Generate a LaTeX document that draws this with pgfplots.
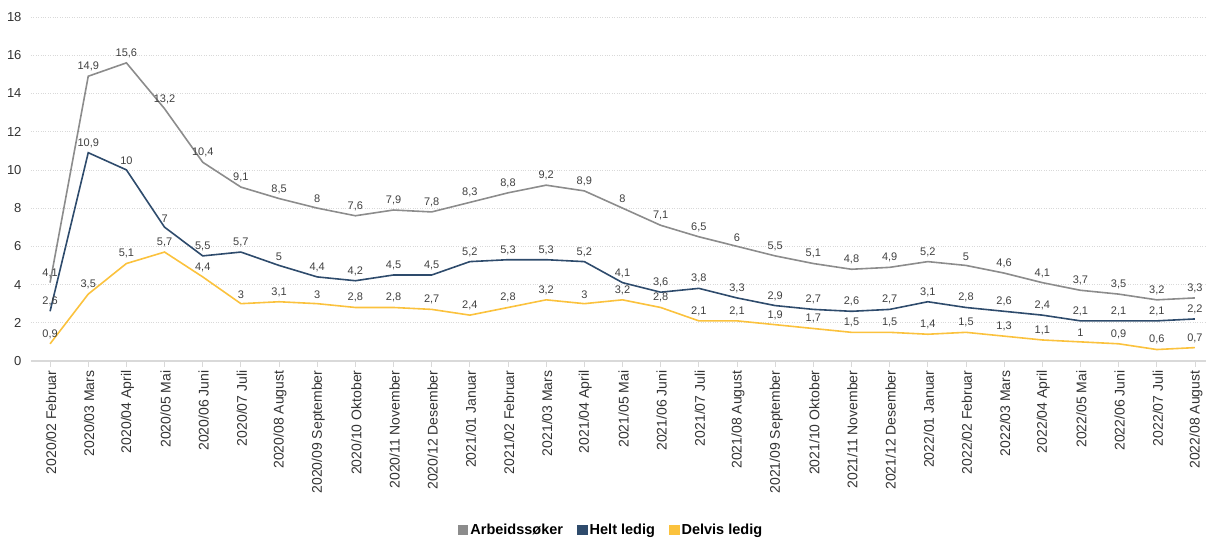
\documentclass[border=0pt]{standalone}
\usepackage{pgfplots}
\pgfplotsset{compat=1.18}
\usepackage{fontspec}
\setmainfont{Liberation Sans}

\definecolor{cgray}{HTML}{8C8C8C}
\definecolor{cblue}{HTML}{2E4B6C}
\definecolor{cyellow}{HTML}{FBC23D}
\definecolor{labgray}{HTML}{404040}
\definecolor{gridgray}{HTML}{D9D9D9}

\begin{document}
\begin{tikzpicture}
\begin{axis}[
  scale only axis,
  width=1175pt, height=344pt,
  xmin=-0.5, xmax=30.29,
  ymin=0, ymax=18,
  ytick={0,2,...,18},
  xtick={0,...,30},
  xticklabels={2020/02 Februar,2020/03 Mars,2020/04 April,2020/05 Mai,2020/06 Juni,2020/07 Juli,2020/08 August,2020/09 September,2020/10 Oktober,2020/11 November,2020/12 Desember,2021/01 Januar,2021/02 Februar,2021/03 Mars,2021/04 April,2021/05 Mai,2021/06 Juni,2021/07 Juli,2021/08 August,2021/09 September,2021/10 Oktober,2021/11 November,2021/12 Desember,2022/01 Januar,2022/02 Februar,2022/03 Mars,2022/04 April,2022/05 Mai,2022/06 Juni,2022/07 Juli,2022/08 August},
  axis y line*=left, axis x line*=bottom,
  y axis line style={draw=none},
  x axis line style={gridgray, line width=1.5pt},
  ymajorgrids,
  grid style={gridgray, dotted, line width=0.6pt},
  ytick style={draw=none},
  xtick style={gridgray, line width=0.8pt},
  tick align=outside,
  major tick length=6pt,
  xticklabel style={rotate=90, anchor=east, font=\fontsize{14}{16}\selectfont, text=black!80, yshift=-1pt},
  yticklabel style={font=\fontsize{13}{15}\selectfont, text=black!80},
  /pgf/number format/assume math mode=true,
  /pgf/number format/use comma,
  /pgf/number format/fixed,
  /pgf/number format/precision=1,
  nodes near coords,
  every node near coord/.append style={font=\fontsize{11}{13}\selectfont, text=labgray, anchor=south, yshift=1pt},
  legend columns=-1,
  legend style={draw=none, at={(axis description cs:0.4936,0)}, anchor=center, yshift=-169pt,
    font=\fontsize{14.5}{16}\selectfont\bfseries},
  legend image code/.code={\fill (-4pt,-4.5pt) rectangle (5pt,4.5pt);},
]
\addplot[color=cgray, line width=1.6pt, mark=none] coordinates {
(0,4.1) (1,14.9) (2,15.6) (3,13.2) (4,10.4) (5,9.1) (6,8.5) (7,8) (8,7.6) (9,7.9)
(10,7.8) (11,8.3) (12,8.8) (13,9.2) (14,8.9) (15,8) (16,7.1) (17,6.5) (18,6) (19,5.5)
(20,5.1) (21,4.8) (22,4.9) (23,5.2) (24,5) (25,4.6) (26,4.1) (27,3.7) (28,3.5) (29,3.2) (30,3.3)};
\addlegendentry{Arbeidssøker\hspace*{12pt}\mbox{}}
\addplot[color=cblue, line width=1.6pt, mark=none] coordinates {
(0,2.6) (1,10.9) (2,10) (3,7) (4,5.5) (5,5.7) (6,5) (7,4.4) (8,4.2) (9,4.5)
(10,4.5) (11,5.2) (12,5.3) (13,5.3) (14,5.2) (15,4.1) (16,3.6) (17,3.8) (18,3.3) (19,2.9)
(20,2.7) (21,2.6) (22,2.7) (23,3.1) (24,2.8) (25,2.6) (26,2.4) (27,2.1) (28,2.1) (29,2.1) (30,2.2)};
\addlegendentry{Helt ledig\hspace*{12pt}\mbox{}}
\addplot[color=cyellow, line width=1.6pt, mark=none] coordinates {
(0,0.9) (1,3.5) (2,5.1) (3,5.7) (4,4.4) (5,3) (6,3.1) (7,3) (8,2.8) (9,2.8)
(10,2.7) (11,2.4) (12,2.8) (13,3.2) (14,3) (15,3.2) (16,2.8) (17,2.1) (18,2.1) (19,1.9)
(20,1.7) (21,1.5) (22,1.5) (23,1.4) (24,1.5) (25,1.3) (26,1.1) (27,1) (28,0.9) (29,0.6) (30,0.7)};
\addlegendentry{Delvis ledig}
\coordinate (o) at (rel axis cs:0,0);
\coordinate (t) at (rel axis cs:1,1);
\end{axis}
\pgfresetboundingbox
\path[use as bounding box] ([xshift=-31pt,yshift=-179pt]o) rectangle ([yshift=17pt]t);
\end{tikzpicture}
\end{document}
